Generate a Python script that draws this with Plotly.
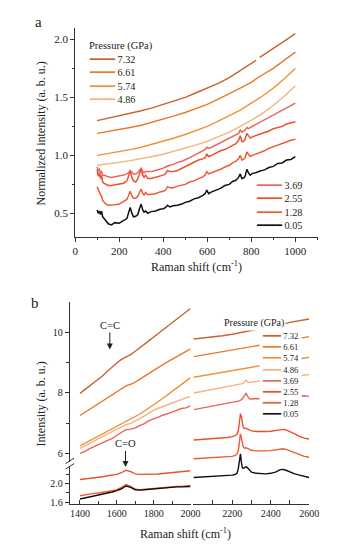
import plotly.graph_objects as go

# ---------------- data ----------------
PRESSURES = ["7.32", "6.61", "5.74", "4.86", "3.69", "2.55", "1.28", "0.05"]
COLORS = ["#c4652c", "#e8792a", "#f09236", "#f6b27c", "#ea6458", "#e8512c", "#ec5b34", "#111111"]

# panel a (Raman shift 100-1000 cm-1, normalized intensity)
XA_SMOOTH = [100, 150, 200, 250, 300, 350, 400, 450, 500, 550, 600, 650, 700, 750, 800, 822, 830, 838, 900, 950, 1000]
A_732 = [1.30, 1.32, 1.34, 1.36, 1.385, 1.41, 1.44, 1.47, 1.50, 1.54, 1.58, 1.62, 1.67, 1.73, 1.79, 1.82, None, 1.845, 1.92, 1.985, 2.05]
A_661 = [1.19, 1.205, 1.22, 1.24, 1.26, 1.285, 1.31, 1.34, 1.37, 1.405, 1.44, 1.485, 1.53, 1.58, 1.63, 1.66, 1.67, 1.68, 1.75, 1.82, 1.89]
A_574 = [1.00, 1.015, 1.03, 1.05, 1.07, 1.095, 1.12, 1.15, 1.18, 1.215, 1.25, 1.295, 1.34, 1.39, 1.45, 1.475, 1.485, 1.495, 1.58, 1.66, 1.75]
A_486 = [0.915, 0.925, 0.94, 0.955, 0.97, 0.99, 1.01, 1.035, 1.06, 1.09, 1.12, 1.16, 1.20, 1.25, 1.30, 1.325, 1.335, 1.345, 1.43, 1.51, 1.60]

XA_FINE = [100, 105, 110, 115, 120, 125, 130, 140, 150, 165,
           180, 200, 220, 235, 242, 250, 258, 265, 275, 285,
           292, 300, 307, 313, 320, 330, 345, 365, 385, 400,
           410, 420, 430, 445, 465, 485, 500, 520, 540, 560,
           580, 590, 598, 606, 620, 640, 660, 680, 700, 715,
           730, 742, 750, 757, 765, 772, 780, 787, 795, 805,
           820, 840, 860, 880, 900, 920, 940, 960, 980, 1000]
A_369 = [0.90, 0.87, 0.88, 0.85, 0.86, 0.83, 0.83, 0.82, 0.815, 0.81,
         0.815, 0.82, 0.83, 0.84, 0.85, 0.87, 0.85, 0.84, 0.84, 0.85,
         0.87, 0.89, 0.86, 0.85, 0.86, 0.86, 0.86, 0.87, 0.88, 0.89,
         0.90, 0.91, 0.915, 0.92, 0.94, 0.95, 0.96, 0.98, 1.00, 1.02,
         1.04, 1.05, 1.07, 1.06, 1.07, 1.09, 1.11, 1.13, 1.15, 1.16,
         1.18, 1.19, 1.22, 1.20, 1.21, 1.22, 1.24, 1.23, 1.24, 1.25,
         1.27, 1.29, 1.31, 1.33, 1.35, 1.37, 1.39, 1.41, 1.43, 1.45]
A_255 = [0.88, 0.82, 0.85, 0.80, 0.83, 0.77, 0.76, 0.75, 0.74, 0.74,
         0.745, 0.75, 0.76, 0.78, 0.81, 0.86, 0.81, 0.78, 0.77, 0.80,
         0.84, 0.88, 0.83, 0.81, 0.83, 0.80, 0.80, 0.81, 0.82, 0.83,
         0.84, 0.87, 0.86, 0.86, 0.87, 0.89, 0.90, 0.92, 0.94, 0.96,
         0.97, 0.98, 1.01, 0.99, 1.00, 1.02, 1.04, 1.05, 1.07, 1.09,
         1.10, 1.13, 1.17, 1.12, 1.12, 1.14, 1.19, 1.17, 1.15, 1.16,
         1.17, 1.18, 1.20, 1.21, 1.23, 1.24, 1.25, 1.27, 1.28, 1.29]
A_128 = [0.73, 0.70, 0.69, 0.66, 0.65, 0.61, 0.60, 0.58, 0.57, 0.57,
         0.575, 0.58, 0.60, 0.62, 0.65, 0.69, 0.65, 0.63, 0.63, 0.65,
         0.68, 0.71, 0.67, 0.66, 0.68, 0.66, 0.665, 0.67, 0.685, 0.69,
         0.70, 0.73, 0.72, 0.72, 0.735, 0.74, 0.75, 0.77, 0.78, 0.80,
         0.815, 0.83, 0.86, 0.84, 0.85, 0.865, 0.88, 0.90, 0.915, 0.935,
         0.95, 0.97, 1.00, 0.96, 0.965, 0.98, 1.03, 1.01, 0.99, 1.00,
         1.01, 1.03, 1.04, 1.06, 1.075, 1.09, 1.10, 1.12, 1.13, 1.14]
A_005 = [0.53, 0.50, 0.52, 0.49, 0.52, 0.47, 0.46, 0.43, 0.41, 0.40,
         0.42, 0.415, 0.44, 0.455, 0.50, 0.55, 0.50, 0.47, 0.475, 0.49,
         0.54, 0.58, 0.53, 0.51, 0.52, 0.50, 0.515, 0.52, 0.535, 0.54,
         0.55, 0.57, 0.555, 0.565, 0.57, 0.58, 0.595, 0.605, 0.625, 0.635,
         0.655, 0.67, 0.70, 0.67, 0.685, 0.70, 0.715, 0.74, 0.75, 0.775,
         0.785, 0.81, 0.84, 0.80, 0.805, 0.82, 0.88, 0.85, 0.83, 0.845,
         0.85, 0.865, 0.875, 0.895, 0.905, 0.93, 0.935, 0.96, 0.965, 0.99]

# panel b, left part (1400-2000 cm-1)
XB_L = [1400, 1425, 1450, 1475, 1500, 1525, 1550, 1575, 1600, 1625, 1650, 1675, 1700,
        1725, 1750, 1775, 1800, 1825, 1850, 1875, 1900, 1925, 1950, 1975, 2000]
B_L_732 = [7.98, 8.10, 8.20, 8.33, 8.45, 8.57, 8.72, 8.86, 8.98, 9.10, 9.18, 9.26, 9.37,
           9.48, 9.60, 9.72, 9.84, 9.96, 10.08, 10.19, 10.30, 10.42, 10.54, 10.66, 10.78]
B_L_661 = [7.25, 7.35, 7.45, 7.55, 7.65, 7.75, 7.85, 7.95, 8.05, 8.15, 8.23, 8.28, 8.35,
           8.45, 8.55, 8.65, 8.75, 8.84, 8.93, 9.02, 9.11, 9.20, 9.28, 9.37, 9.45]
B_L_574 = [6.25, 6.33, 6.41, 6.50, 6.58, 6.66, 6.73, 6.80, 6.88, 6.96, 7.04, 7.12, 7.20,
           7.30, 7.40, 7.50, 7.60, 7.71, 7.82, 7.93, 8.05, 8.16, 8.27, 8.39, 8.50]
B_L_486 = [6.17, 6.25, 6.33, 6.42, 6.50, 6.58, 6.65, 6.72, 6.80, 6.87, 6.95, 6.99, 7.06,
           7.15, 7.24, 7.33, 7.43, 7.49, 7.55, 7.61, 7.66, 7.72, 7.77, 7.83, 7.88]
B_L_369 = [6.00, 6.06, 6.15, 6.22, 6.30, 6.37, 6.45, 6.50, 6.60, 6.68, 6.78, 6.80, 6.84,
           6.92, 6.98, 7.08, 7.15, 7.20, 7.26, 7.30, 7.36, 7.42, 7.48, 7.50, 7.57]
B_L_255 = [2.09, 2.10, 2.12, 2.13, 2.14, 2.15, 2.17, 2.18, 2.20, 2.24, 2.29, 2.26, 2.21,
           2.20, 2.20, 2.21, 2.21, 2.21, 2.22, 2.23, 2.24, 2.24, 2.25, 2.26, 2.28]
B_L_128 = [1.74, 1.76, 1.78, 1.79, 1.80, 1.81, 1.83, 1.85, 1.87, 1.92, 1.98, 1.94, 1.88,
           1.87, 1.88, 1.89, 1.90, 1.91, 1.92, 1.92, 1.93, 1.94, 1.94, 1.95, 1.96]
B_L_005 = [1.67, 1.69, 1.71, 1.73, 1.76, 1.78, 1.80, 1.82, 1.85, 1.89, 1.95, 1.92, 1.87,
           1.86, 1.87, 1.88, 1.89, 1.90, 1.91, 1.91, 1.92, 1.93, 1.93, 1.94, 1.94]

# panel b, right part (2000-2600 cm-1)
XB_R_SMOOTH = [2000, 2050, 2100, 2150, 2200, 2250, 2300, 2350, 2400, 2450, 2500, 2550, 2600]
B_R_732 = [9.77, 9.80, 9.84, 9.88, 9.93, 9.99, 10.05, 10.11, 10.17, 10.24, 10.32, 10.38, 10.43]
B_R_661 = [9.19, 9.245, 9.30, 9.35, 9.40, 9.455, 9.51, 9.565, 9.62, 9.68, 9.74, 9.795, 9.85]
B_R_574 = [8.51, 8.565, 8.62, 8.675, 8.73, 8.785, 8.84, 8.895, 8.95, 9.005, 9.06, 9.115, 9.17]

XB_R = [2000, 2025, 2050, 2075, 2100, 2125, 2150, 2175, 2200, 2215, 2225, 2232, 2238, 2243, 2248,
        2253, 2258, 2265, 2272, 2280, 2290, 2300, 2325, 2350, 2375, 2400, 2425, 2450, 2465, 2480,
        2500, 2525, 2550, 2575, 2600]
B_R_486 = [7.99, 8.02, 8.05, 8.07, 8.10, 8.13, 8.16, 8.19, 8.22, 8.24, 8.25, 8.26, 8.27, 8.28, 8.29,
           8.30, 8.32, 8.37, 8.41, 8.36, 8.34, 8.35, 8.37, 8.39, 8.42, 8.44, 8.46, 8.48, 8.50, 8.51,
           8.53, 8.55, 8.57, 8.58, 8.60]
B_R_369 = [7.44, 7.47, 7.48, 7.52, 7.55, 7.57, 7.61, 7.63, 7.67, 7.70, 7.71, 7.72, 7.74, 7.75, 7.77,
           7.80, 7.86, 7.94, 7.98, 7.88, 7.80, 7.79, 7.81, 7.80, 7.81, 7.83, 7.84, 7.86, 7.87, 7.86,
           7.87, 7.88, 7.89, 7.90, 7.88]
B_R_255 = [6.44, 6.45, 6.46, 6.46, 6.48, 6.49, 6.50, 6.52, 6.55, 6.58, 6.63, 6.75, 7.05, 7.31, 7.20,
           6.95, 6.84, 6.82, 6.83, 6.80, 6.76, 6.74, 6.72, 6.71, 6.72, 6.73, 6.75, 6.78, 6.79, 6.77,
           6.72, 6.64, 6.56, 6.50, 6.47]
B_R_128 = [5.82, 5.83, 5.84, 5.84, 5.85, 5.86, 5.87, 5.88, 5.90, 5.93, 5.98, 6.10, 6.40, 6.64, 6.50,
           6.30, 6.20, 6.17, 6.18, 6.16, 6.12, 6.10, 6.08, 6.07, 6.08, 6.09, 6.11, 6.14, 6.15, 6.13,
           6.08, 6.01, 5.94, 5.90, 5.87]
B_R_005 = [5.20, 5.21, 5.21, 5.22, 5.23, 5.24, 5.24, 5.26, 5.28, 5.30, 5.34, 5.50, 5.80, 5.98, 5.70,
           5.52, 5.50, 5.53, 5.56, 5.52, 5.43, 5.38, 5.34, 5.32, 5.32, 5.34, 5.38, 5.46, 5.47, 5.44,
           5.38, 5.32, 5.28, 5.24, 5.20]

# ---------------- layout helpers ----------------
W, H = 340, 550
FONT = "Liberation Serif"
INK = "#222222"


def px(x):
    return x / W


def py(y):
    return 1 - y / H


fig = go.Figure()

# panel a traces
panel_a = [(XA_SMOOTH, A_732), (XA_SMOOTH, A_661), (XA_SMOOTH, A_574), (XA_SMOOTH, A_486),
           (XA_FINE, A_369), (XA_FINE, A_255), (XA_FINE, A_128), (XA_FINE, A_005)]
for i, (xs, ys) in enumerate(panel_a):
    fig.add_trace(go.Scatter(x=xs, y=ys, mode="lines", xaxis="x", yaxis="y",
                             line=dict(color=COLORS[i], width=1.4 if i < 4 else 1.5),
                             connectgaps=False, showlegend=False))

# panel b left upper
for i, ys in enumerate([B_L_732, B_L_661, B_L_574, B_L_486, B_L_369]):
    fig.add_trace(go.Scatter(x=XB_L, y=ys, mode="lines", xaxis="x2", yaxis="y2",
                             line=dict(color=COLORS[i], width=1.4), showlegend=False))
# panel b left lower
for j, ys in enumerate([B_L_255, B_L_128, B_L_005]):
    fig.add_trace(go.Scatter(x=XB_L, y=ys, mode="lines", xaxis="x2", yaxis="y3",
                             line=dict(color=COLORS[5 + j], width=1.4), showlegend=False))
# panel b right
for i, ys in enumerate([B_R_732, B_R_661, B_R_574]):
    fig.add_trace(go.Scatter(x=XB_R_SMOOTH, y=ys, mode="lines", xaxis="x3", yaxis="y4",
                             line=dict(color=COLORS[i], width=1.4), showlegend=False))
for j, ys in enumerate([B_R_486, B_R_369, B_R_255, B_R_128, B_R_005]):
    fig.add_trace(go.Scatter(x=XB_R, y=ys, mode="lines", xaxis="x3", yaxis="y4",
                             line=dict(color=COLORS[3 + j], width=1.4), showlegend=False))

axis_common = dict(showline=True, linecolor="#333", linewidth=1, showgrid=False, zeroline=False,
                   tickcolor="#333", tickwidth=1, ticklen=4,
                   tickfont=dict(family=FONT, size=11, color=INK))

fig.update_layout(
    width=W, height=H, margin=dict(l=0, r=0, t=0, b=0), autosize=False,
    paper_bgcolor="white", plot_bgcolor="white", showlegend=False,
    xaxis=dict(axis_common, domain=[px(75), px(328)], range=[0, 1105], anchor="y",
               tickvals=[0, 200, 400, 600, 800, 1000], ticks="outside",
               minor=dict(tickvals=[100, 300, 500, 700, 900, 1100], ticks="outside", ticklen=2.5, tickcolor="#333")),
    yaxis=dict(axis_common, domain=[py(238.3), py(28)], range=[0.3, 2.1], anchor="x",
               tickvals=[0.5, 1.0, 1.5, 2.0], ticktext=["0.5", "1.0", "1.5", "2.0"], ticks="outside",
               minor=dict(tickvals=[0.75, 1.25, 1.75], ticks="outside", ticklen=2.5, tickcolor="#333")),
    xaxis2=dict(axis_common, domain=[px(69.5), px(195)], range=[1345, 2000], anchor="y3",
                tickvals=[1400, 1600, 1800, 2000], ticks="inside",
                tickfont=dict(family=FONT, size=10, color=INK),
                minor=dict(tickvals=[1500, 1700, 1900], ticks="inside", ticklen=2.5, tickcolor="#333")),
    yaxis2=dict(axis_common, domain=[py(465), py(304)], range=[5.73, 11.0], anchor="x2",
                tickvals=[6, 8, 10], ticks="outside",
                tickfont=dict(family=FONT, size=10, color=INK),
                minor=dict(tickvals=[7, 9], ticks="outside", ticklen=2.5, tickcolor="#333")),
    yaxis3=dict(axis_common, domain=[py(507.3), py(469)], range=[1.57, 2.39], anchor="x2",
                tickvals=[1.6, 2.0], ticktext=["1.6", "2.0"], ticks="outside",
                tickfont=dict(family=FONT, size=10, color=INK),
                minor=dict(tickvals=[1.8, 2.2], ticks="outside", ticklen=2.5, tickcolor="#333")),
    xaxis3=dict(axis_common, domain=[px(197.3), px(318.3)], range=[1995, 2600], anchor="y4",
                tickvals=[2200, 2400, 2600], ticks="inside",
                tickfont=dict(family=FONT, size=10, color=INK),
                minor=dict(tickvals=[2000, 2100, 2300, 2500], ticks="inside", ticklen=4, tickcolor="#333")),
    yaxis4=dict(domain=[py(507.3), py(304)], range=[4.34, 11.0], anchor="x3", visible=False),
)


def key(color, n, size):
    return ('<span style="color:%s;font-family:DejaVu Sans;font-size:%spx">%s</span>'
            % (color, size, "\u2501" * n))


def note(text, x, y, size, xanchor="center", **kw):
    d = dict(text=text, x=px(x), y=py(y), xref="paper", yref="paper", showarrow=False,
             xanchor=xanchor, yanchor="middle", font=dict(family=FONT, size=size, color=INK))
    d.update(kw)
    return d


ann = []
# panel labels
ann.append(note("a", 37, 22, 15))
ann.append(note("b", 33, 305, 15))
# axis titles
ann.append(note("Normalized intensity (a. b. u.)", 40, 134, 12, textangle=-90))
ann.append(note("Raman shift (cm<sup>-1</sup>)", 201.5, 268, 12))
ann.append(note("Intensity (a. b. u.)", 40, 407, 12, textangle=-90))
ann.append(note("Raman shift (cm<sup>-1</sup>)", 190, 537, 12))

# panel a legends
ann.append(note("Pressure (GPa)", 87, 46, 10.5, xanchor="left"))
rows = ["%s %s" % (key(COLORS[i], 4, 10.4), PRESSURES[i]) for i in range(4)]
ann.append(note("<br>".join(rows), 87, 79.2, 10.2, xanchor="left", align="left"))
rows = ["%s %s" % (key(COLORS[i], 4, 10.4), PRESSURES[i]) for i in range(4, 8)]
ann.append(note("<br>".join(rows), 261, 206.7, 10.2, xanchor="left", align="left"))

# panel b legend (white box hides the curves beneath)
ann.append(note("Pressure (GPa)", 228, 325, 10, xanchor="left", bgcolor="white", borderpad=1))
rows = ["%s %s" % (key(COLORS[i], 3, 10), PRESSURES[i]) for i in range(8)]
ann.append(note("<br>".join(rows), 266, 377.5, 8.6, xanchor="left", align="left",
                bgcolor="white", borderpad=2))

# peak markers
ann.append(dict(text="C=C", x=1562, y=9.43, xref="x2", yref="y2", ax=0, ay=-24, showarrow=True,
                arrowhead=2, arrowsize=1.2, arrowwidth=1, arrowcolor=INK, standoff=0,
                font=dict(family=FONT, size=10.5, color=INK)))
ann.append(dict(text="C=O", x=1647, y=2.36, xref="x2", yref="y3", ax=0, ay=-23, showarrow=True,
                arrowhead=2, arrowsize=1.2, arrowwidth=1, arrowcolor=INK, standoff=0,
                font=dict(family=FONT, size=10.5, color=INK)))
fig.update_layout(annotations=ann)

# axis-break marks on the panel b y axis
fig.update_layout(shapes=[
    dict(type="line", xref="paper", yref="paper", x0=px(65), y0=py(467), x1=px(74), y1=py(461.5),
         line=dict(color="#333", width=1)),
    dict(type="line", xref="paper", yref="paper", x0=px(65), y0=py(472.5), x1=px(74), y1=py(467),
         line=dict(color="#333", width=1)),
])

fig.write_html("out.html")
